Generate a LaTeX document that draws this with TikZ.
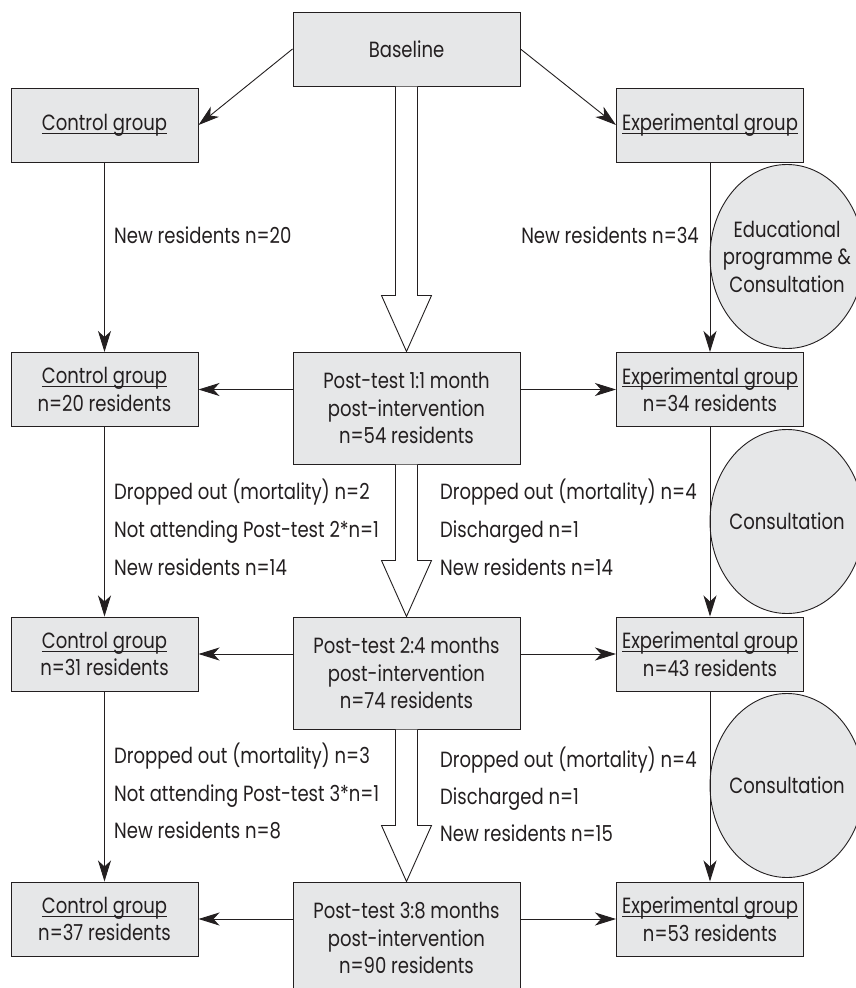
\documentclass[tikz,border=0pt]{standalone}
\usepackage{fontspec}
\setmainfont{Poppins}[FakeStretch=0.82]
\usetikzlibrary{arrows.meta,shapes.geometric,calc}
\definecolor{boxfill}{RGB}{230,231,232}
\definecolor{ink}{RGB}{35,31,32}
\newcommand{\ulx}[1]{\setbox0\hbox{#1}\rlap{\rule[-3.3pt]{\wd0}{0.9pt}}\box0}
\tikzset{
  box/.style={draw=ink, line width=1pt, fill=boxfill, rectangle, align=center, inner sep=0pt},
  gbox/.style={box, minimum width=187pt, minimum height=74pt},
  pbox/.style={box, minimum width=227pt, minimum height=112pt},
  conn/.style={draw=ink, line width=0.9pt, -{Stealth[length=21pt,width=13pt,inset=6pt]}},
  oval/.style={ellipse, draw=ink, line width=0.9pt, fill=boxfill, minimum width=154pt, minimum height=184pt, inner sep=0pt},
  hollow/.style={draw=ink, line width=0.9pt, fill=white, line join=miter},
  lbl/.style={inner sep=0pt, anchor=base west},
  lblr/.style={inner sep=0pt, anchor=base east},
  otext/.style={inner sep=0pt, align=center}
}
\begin{document}
\begin{tikzpicture}[x=1pt, y=-1pt, font=\fontsize{22}{27.5}\selectfont, text=ink]
\useasboundingbox (0,0) rectangle (856,988);
\clip (0,0) rectangle (856,988);
\fill[white] (0,0) rectangle (856,988);

% ellipses
\node[oval] (ov1) at (787,256.5) {};
\node[otext] (ot1) at (ov1) {Educational\\programme \&\\Consultation};
\node[oval] (ov2) at (787,521.5) {};
\node[otext] (ot2) at (ov2) {Consultation};
\node[oval] (ov3) at (787,785.5) {};
\node[otext] (ot3) at (ov3) {Consultation};

% boxes
\node[box, minimum width=227pt, minimum height=74pt] (base) at (406.5,49) {Baseline};
\node[gbox] (c1) at (104.5,125) {\ulx{Control group}};
\node[gbox] (e1) at (710,125) {\ulx{Experimental group}};
\node[gbox] (c2) at (104.5,389.5) {\ulx{Control group}\\n=20 residents};
\node[pbox] (p1) at (406.5,408) {Post-test 1:1 month\\post-intervention\\n=54 residents};
\node[gbox] (e2) at (710,389.5) {\ulx{Experimental group}\\n=34 residents};
\node[gbox] (c3) at (104.5,654) {\ulx{Control group}\\n=31 residents};
\node[pbox] (p2) at (406.5,673) {Post-test 2:4 months\\post-intervention\\n=74 residents};
\node[gbox] (e3) at (710,654) {\ulx{Experimental group}\\n=43 residents};
\node[gbox] (c4) at (104.5,919) {\ulx{Control group}\\n=37 residents};
\node[pbox] (p3) at (406.5,938) {Post-test 3:8 months\\post-intervention\\n=90 residents};
\node[gbox] (e4) at (710,919) {\ulx{Experimental group}\\n=53 residents};

% diagonal arrows
\draw[conn] (base.west) -- (c1.east);
\draw[conn] (base.east) -- (e1.west);

% vertical arrows
\draw[conn] (c1.south) -- (c2.north);
\draw[conn] (c2.south) -- (c3.north);
\draw[conn] (c3.south) -- (c4.north);
\draw[conn] (e1.south) -- (e2.north);
\draw[conn] (e2.south) -- (e3.north);
\draw[conn] (e3.south) -- (e4.north);

% horizontal arrows
\draw[conn] (p1.west |- c2.east) -- (c2.east);
\draw[conn] (p1.east |- e2.west) -- (e2.west);
\draw[conn] (p2.west |- c3.east) -- (c3.east);
\draw[conn] (p2.east |- e3.west) -- (e3.west);
\draw[conn] (p3.west |- c4.east) -- (c4.east);
\draw[conn] (p3.east |- e4.west) -- (e4.west);

% hollow arrows
\foreach \a/\b in {base/p1, p1/p2, p2/p3}{
  \draw[hollow] ($(\a.south)+(-11,0)$) -- ($(\b.north)+(-11,-56)$) -- ($(\b.north)+(-25,-56)$)
    -- (\b.north) -- ($(\b.north)+(25,-56)$) -- ($(\b.north)+(11,-56)$) -- ($(\a.south)+(11,0)$);
}

% labels
\node[lbl] (l1) at (114,243) {New residents n=20};
\node[lblr] (r1) at (699,243) {New residents n=34};

\node[lbl] (l2a) at (114,499) {Dropped out (mortality) n=2};
\node[lbl] (l2b) at (114,537) {Not attending Post-test 2*n=1};
\node[lbl] (l2c) at (114,575) {New residents n=14};
\node[lbl] (r2a) at (440,499) {Dropped out (mortality) n=4};
\node[lbl] (r2b) at (440,537) {Discharged n=1};
\node[lbl] (r2c) at (440,575) {New residents n=14};

\node[lbl] (l3a) at (114,763) {Dropped out (mortality) n=3};
\node[lbl] (l3b) at (114,801) {Not attending Post-test 3*n=1};
\node[lbl] (l3c) at (114,838) {New residents n=8};
\node[lbl] (r3a) at (440,767) {Dropped out (mortality) n=4};
\node[lbl] (r3b) at (440,804) {Discharged n=1};
\node[lbl] (r3c) at (440,841) {New residents n=15};
\end{tikzpicture}
\end{document}
